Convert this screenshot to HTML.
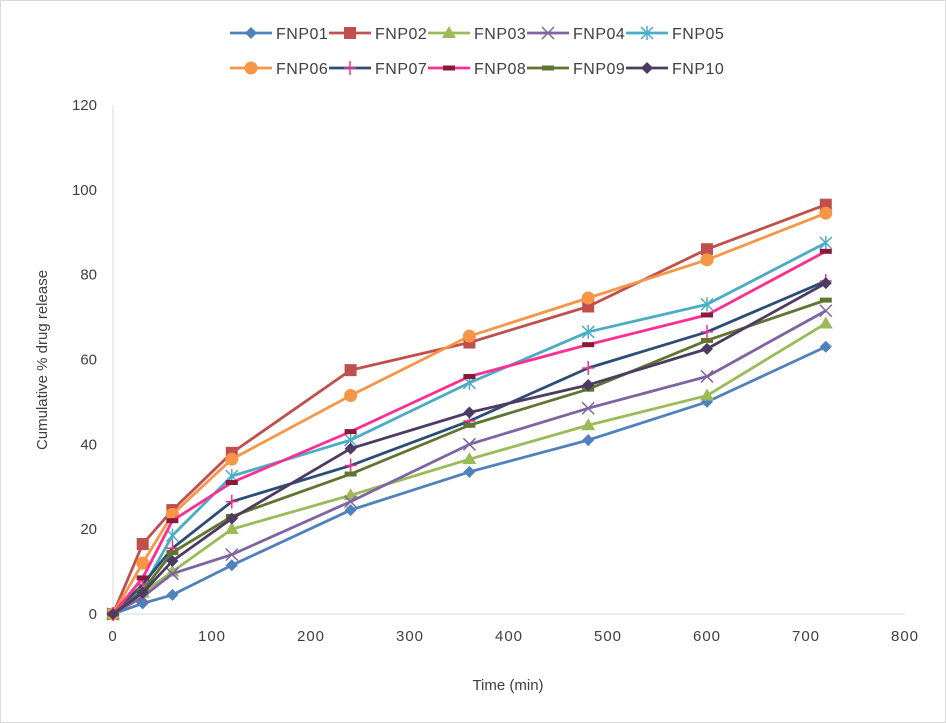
<!DOCTYPE html>
<html><head><meta charset="utf-8"><style>
body{margin:0;background:#fff;}
svg{display:block;font-family:"Liberation Sans",sans-serif;}
</style></head><body>
<svg id="chart" width="946" height="723">
<rect x="0.5" y="0.5" width="945" height="722" fill="#fff" stroke="#d9d9d9"/>
<g id="axes"></g><g id="series"></g><g id="legend"></g>
<text x="508" y="690" font-size="15" fill="#404040" text-anchor="middle">Time (min)</text>
<text transform="translate(47,360) rotate(-90)" font-size="15" fill="#404040" text-anchor="middle">Cumulative % drug release</text>
</svg>
<script>
const times = [0,30,60,120,240,360,480,600,720];
const names = ["FNP01","FNP02","FNP03","FNP04","FNP05","FNP06","FNP07","FNP08","FNP09","FNP10"];
const fnp01 = [0,2.5,4.5,11.5,24.5,33.5,41,50,63];
const fnp02 = [0,16.5,24.5,38,57.5,64,72.5,86,96.5];
const fnp03 = [0,5,10,20,28,36.5,44.5,51.5,68.5];
const fnp04 = [0,4,9.5,14,26.5,40,48.5,56,71.5];
const fnp05 = [0,6,18.5,32.5,41,54.5,66.5,73,87.5];
const fnp06 = [0,12,23.5,36.5,51.5,65.5,74.5,83.5,94.5];
const fnp07 = [0,7,15.5,26.5,35,45.5,58,66.5,78.5];
const fnp08 = [0,8.5,22,31,43,56,63.5,70.5,85.5];
const fnp09 = [0,5.5,14.5,23,33,44.5,53,64.5,74];
const fnp10 = [0,5,12.5,22.5,39,47.5,54,62.5,78];
const xTicks = [0,100,200,300,400,500,600,700,800];
const yTicks = [0,20,40,60,80,100,120];
const allSeries = [fnp01,fnp02,fnp03,fnp04,fnp05,fnp06,fnp07,fnp08,fnp09,fnp10];
const colors = ["#4F81BD","#C0504D","#9BBB59","#8064A2","#4BACC6","#F79646","#2C4D75","#FF2E93","#5F7530","#4D3B62"];
const markers = ["diamond","square","triangle","x","star","circle","plus","dash","dash","diamond"];
const markerColors = ["#4F81BD","#C0504D","#9BBB59","#8064A2","#4BACC6","#F79646","#FF2E93","#8B1A3A","#5F7530","#4D3B62"];
const NS="http://www.w3.org/2000/svg";
const X0=113,X1=905,Y0=614,Y1=105;
const xs=v=>X0+(v/800)*(X1-X0);
const ys=v=>Y0-(v/120)*(Y0-Y1);
function mk(tag,attrs,parent){const e=document.createElementNS(NS,tag);for(const k in attrs)e.setAttribute(k,attrs[k]);parent.appendChild(e);return e;}
const axes=document.getElementById('axes');
const xl=mk('line',{x1:X0,y1:Y0,x2:X1,y2:Y0,stroke:'#d9d9d9','stroke-width':1},axes);


const yl=mk('line',{x1:X0,y1:Y1,x2:X0,y2:Y0,stroke:'#d9d9d9','stroke-width':1},axes);


xTicks.forEach(t=>{const e=mk('text',{x:xs(t),y:Y0+27,'font-size':15,fill:'#404040','text-anchor':'middle','letter-spacing':'1'},axes);e.textContent=t;

});
yTicks.forEach(t=>{const e=mk('text',{x:X0-16,y:ys(t)+5,'font-size':15,fill:'#404040','text-anchor':'end'},axes);e.textContent=t;

});
function marker(type,cx,cy,col,g){
  let e;
  if(type==='diamond')e=mk('path',{d:`M${cx} ${cy-6}L${cx+6} ${cy}L${cx} ${cy+6}L${cx-6} ${cy}Z`,fill:col},g);
  else if(type==='square')e=mk('rect',{x:cx-6,y:cy-6,width:12,height:12,fill:col},g);
  else if(type==='triangle')e=mk('path',{d:`M${cx} ${cy-7}L${cx+7} ${cy+5}L${cx-7} ${cy+5}Z`,fill:col},g);
  else if(type==='circle')e=mk('circle',{cx:cx,cy:cy,r:6.5,fill:col},g);
  else if(type==='x')e=mk('path',{d:`M${cx-6} ${cy-6}L${cx+6} ${cy+6}M${cx-6} ${cy+6}L${cx+6} ${cy-6}`,stroke:col,'stroke-width':1.5},g);
  else if(type==='star')e=mk('path',{d:`M${cx-6} ${cy-6}L${cx+6} ${cy+6}M${cx-6} ${cy+6}L${cx+6} ${cy-6}M${cx} ${cy-7}L${cx} ${cy+7}`,stroke:col,'stroke-width':1.5},g);
  else if(type==='plus')e=mk('path',{d:`M${cx-6} ${cy}L${cx+6} ${cy}M${cx} ${cy-7}L${cx} ${cy+7}`,stroke:col,'stroke-width':1.5},g);
  else e=mk('rect',{x:cx-6,y:cy-2.5,width:12,height:5,fill:col},g);
  return e;
}
const sg=document.getElementById('series');
allSeries.forEach((vals,i)=>{
  const g=mk('g',{},sg);
  
  
  const pts=vals.map((v,j)=>xs(times[j])+','+ys(v)).join(' ');
  const pl=mk('polyline',{points:pts,fill:'none',stroke:colors[i],'stroke-width':2.8,'stroke-linejoin':'round'},g);
  
  
  vals.forEach((v,j)=>{const m=marker(markers[i],xs(times[j]),ys(v),markerColors[i],g);
    
    });
});
const lg=document.getElementById('legend');
names.forEach((n,i)=>{
  const row=Math.floor(i/5),col=i%5;
  const lx=230+col*99,ly=33+row*35;
  const g=mk('g',{},lg);
  
  
  mk('line',{x1:lx,y1:ly,x2:lx+42,y2:ly,stroke:colors[i],'stroke-width':2.8},g);
  marker(markers[i],lx+21,ly,markerColors[i],g);
  const t=mk('text',{x:lx+46,y:ly+6,'font-size':16,fill:'#404040','letter-spacing':'0.5'},g);
  t.textContent=n;
});
</script>
</body></html>
